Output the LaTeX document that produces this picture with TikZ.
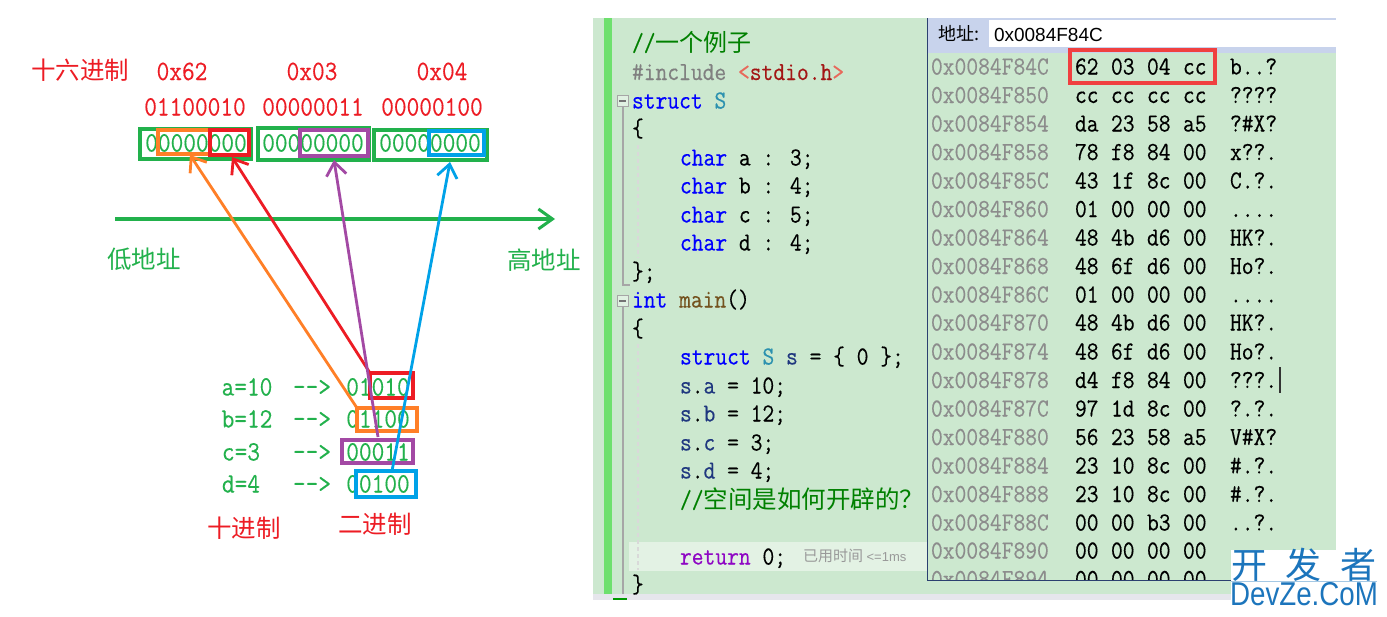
\documentclass[tikz,border=0pt]{standalone}
\usepackage{fontspec}
\usetikzlibrary{arrows.meta}
\setmainfont{Latin Modern Roman}
\newfontfamily\cjk{Noto Sans CJK SC}
\newfontfamily\mono[FakeStretch=0.88,FakeBold=0.35]{Latin Modern Mono}
\newfontfamily\ui{Liberation Sans}
\newfontfamily\uinarrow[FakeStretch=0.84]{Liberation Sans}
\definecolor{gr}{HTML}{22B14C}
\definecolor{rd}{HTML}{ED1C24}
\definecolor{og}{HTML}{FF7F27}
\definecolor{pu}{HTML}{A349A4}
\definecolor{bl}{HTML}{00A2E8}
\definecolor{panel}{HTML}{CCE8CF}
\definecolor{kw}{HTML}{0000FF}
\definecolor{ty}{HTML}{2B91AF}
\definecolor{cm}{HTML}{008000}
\definecolor{prep}{HTML}{808080}
\definecolor{strc}{HTML}{A31515}
\definecolor{ltb}{HTML}{E8685A}
\definecolor{vr}{HTML}{1F377F}
\definecolor{fn}{HTML}{74531F}
\definecolor{ret}{HTML}{8F08C4}
\definecolor{addr}{HTML}{8C8C8C}
\definecolor{wm}{HTML}{1C75BC}
\definecolor{band}{HTML}{E6E6EC}
\definecolor{bar}{HTML}{6EE06E}
\definecolor{winb}{HTML}{2B3F70}
\definecolor{addrbar}{HTML}{C8D3EC}
\definecolor{memr}{HTML}{F04040}
\tikzset{
  txt/.style={inner sep=0pt,outer sep=0pt,anchor=base west},
  ctr/.style={inner sep=0pt,outer sep=0pt,anchor=base},
  lefttxt/.style={ctr,font=\mono\fontsize{28}{28}\selectfont},
  code/.style={txt,font=\mono\fontsize{26}{26}\selectfont},
  cn/.style={ctr,font=\cjk\fontsize{24.5}{24.5}\selectfont},
  hand/.style={line width=2.8pt,-{Straight Barb[length=13pt,width=20pt,line width=2.8pt]}},
  bitbox/.style={inner sep=0pt,outer sep=0pt},
  boxline/.style={line width=3.6pt,line join=miter},
}
% name, colour, x1,y1,x2,y2
\newcommand{\bbox}[6]{\node[bitbox,minimum width={(#5-#3)*1pt},minimum height={(#6-#4)*1pt}] (#1) at ({(#3+#5)/2},{(#4+#6)/2}) {};
  \draw[boxline,#2] (#1.north west) rectangle (#1.south east);}
\newcommand{\hexrow}[7]{%
  \node[code,text=addr] (ad#1) at (931,#1+7.5) {#2};
  \node[code] (ha#1) at (1075,#1+7.5) {#3};
  \node[code] (hb#1) at (1111,#1+7.5) {#4};
  \node[code] (hc#1) at (1147,#1+7.5) {#5};
  \node[code] (hd#1) at (1183,#1+7.5) {#6};
  \node[code] (as#1) at (1230,#1+7.5) {#7};
}
\begin{document}
\begin{tikzpicture}[x=1pt,y=-1pt]
\useasboundingbox (0,0) rectangle (1387,616);
\fill[white] (0,0) rectangle (1387,616);
% ---------- left part
\node[cn,text=rd] (hexlab) at (80,79.5) {十六进制};
\node[lefttxt,text=rd] (h1) at (182,80) {0x62};
\node[lefttxt,text=rd] (h2) at (312,80) {0x03};
\node[lefttxt,text=rd] (h3) at (442,80) {0x04};
\node[lefttxt,text=rd] (b1) at (195,115.5) {01100010};
\node[lefttxt,text=rd] (b2) at (313,115.5) {00000011};
\node[lefttxt,text=rd] (b3) at (432,115.5) {00000100};
\node[lefttxt,text=gr] (z1) at (196,151.5) {00000000};
\node[lefttxt,text=gr] (z2) at (313,151.5) {00000000};
\node[lefttxt,text=gr] (z3) at (430,151.5) {00000000};
\bbox{g1}{gr}{140}{129}{251}{159}
\bbox{g2}{gr}{258}{128}{369}{160}
\bbox{g3}{gr}{374}{130}{487}{160}
\bbox{so}{og}{158}{130}{210}{154}
\bbox{sr}{rd}{210}{130}{249}{155}
\bbox{sp}{pu}{300}{130}{368}{156}
\bbox{sb}{bl}{429}{131}{484}{155}
\coordinate (axs) at (115,219);
\coordinate (axe) at (555,219);
\draw[gr,line width=3.4pt,-{Straight Barb[length=14pt,width=20pt,line width=3pt]}] (axs) -- (axe);
\node[cn,text=gr] (lo) at (144,268) {低地址};
\node[cn,text=gr] (hi) at (544,269) {高地址};
% rows
\node[lefttxt,text=gr] (ra) at (247,395.5) {a=10};
\node[lefttxt,text=gr] (rb) at (247,427.5) {b=12};
\node[lefttxt,text=gr] (rc) at (241,460.5) {c=3};
\node[lefttxt,text=gr] (rd) at (241,492.5) {d=4};
\node[lefttxt,text=gr] (aa) at (312,395.5) {-{}-{}>};
\node[lefttxt,text=gr] (ab) at (312,427.5) {-{}-{}>};
\node[lefttxt,text=gr] (ac) at (312,460.5) {-{}-{}>};
\node[lefttxt,text=gr] (ad) at (312,492.5) {-{}-{}>};
\node[lefttxt,text=gr] (va) at (378,395.5) {01010};
\node[lefttxt,text=gr] (vb) at (378,427.5) {01100};
\node[lefttxt,text=gr] (vc) at (378,460.5) {00011};
\node[lefttxt,text=gr] (vd) at (378,492.5) {00100};
\bbox{ba}{rd}{370}{373}{413}{398}
\bbox{bb}{og}{357}{408}{417}{431}
\bbox{bc}{pu}{342}{440}{413}{463}
\bbox{bd}{bl}{356}{471}{416}{497}
\node[cn,text=rd] (dec) at (244,537) {十进制};
\node[cn,text=rd] (bin) at (375,533) {二进制};
% arrows
\coordinate (tiporange) at (190,155);
\coordinate (tipred) at (232,157);
\coordinate (tippurple) at (334,160);
\coordinate (tipblue) at (450,162);
\coordinate (spurple) at (378,437);
\coordinate (sblue) at (392,471);
\draw[hand,og] (bb.north west) -- (tiporange);
\draw[hand,rd] (ba.north west) -- (tipred);
\draw[hand,pu] (spurple) -- (tippurple);
\draw[hand,bl] (sblue) -- (tipblue);
% ---------- right panel
\fill[panel] (593,18) rectangle (1336,594);
\fill[band] (593,594) rectangle (1231,600);
\fill[green!60!black] (613,598) -- (627,598) -- (627,600) -- (613,600) -- cycle;
\fill[bar] (604,18) rectangle (612,594);
% current line
\fill[white!45!panel] (629,542) rectangle (927,571);
% fold marks
\draw[gray!70,line width=1.2pt] (623,107) -- (623,285) -- (630,285);
\draw[gray!70,line width=1.2pt] (623,307) -- (623,594);
\node[draw=gray!70,line width=1pt,fill=panel!60!white,minimum size=11pt,inner sep=0pt] (f1) at (622.5,101) {};
\node[draw=gray!70,line width=1pt,fill=panel!60!white,minimum size=11pt,inner sep=0pt] (f2) at (622.5,301) {};
\draw[gray!90!black,line width=1.2pt] (f1.center) ++(-3.5,0) -- ++(7,0);
\draw[gray!90!black,line width=1.2pt] (f2.center) ++(-3.5,0) -- ++(7,0);
\draw[black!15,line width=1.5pt,dash pattern=on 4pt off 3pt] (638,145) -- (638,258);
\draw[black!15,line width=1.5pt,dash pattern=on 4pt off 3pt] (638,344) -- (638,570);
% code
\node[txt,text=cm,font=\fontsize{24}{24}\selectfont] (c1) at (632,51) {{\mono\fontsize{26}{26}\selectfont //}{\cjk 一个例子}};
\node[code] (c2) at (632,80) {\textcolor{prep}{\#include} \textcolor{ltb}{<}\textcolor{strc}{stdio.h}\textcolor{ltb}{>}};
\node[code] (c3) at (632,108.5) {\textcolor{kw}{struct} \textcolor{ty}{S}};
\node[code] (c4) at (632,136.5) {\{};
\node[code] (c5) at (680,165.5) {\textcolor{kw}{char} a : 3;};
\node[code] (c6) at (680,193.5) {\textcolor{kw}{char} b : 4;};
\node[code] (c7) at (680,222.5) {\textcolor{kw}{char} c : 5;};
\node[code] (c8) at (680,250.5) {\textcolor{kw}{char} d : 4;};
\node[code] (c9) at (632,279.5) {\};};
\node[code] (c10) at (632,307.5) {\textcolor{kw}{int} \textcolor{fn}{main}()};
\node[code] (c11) at (632,336.5) {\{};
\node[code] (c12) at (680,364.5) {\textcolor{kw}{struct} \textcolor{ty}{S} \textcolor{vr}{s} = \{ 0 \};};
\node[code] (c13) at (680,393.5) {\textcolor{vr}{s}.\textcolor{vr}{a} = 10;};
\node[code] (c14) at (680,421.5) {\textcolor{vr}{s}.\textcolor{vr}{b} = 12;};
\node[code] (c15) at (680,450.5) {\textcolor{vr}{s}.\textcolor{vr}{c} = 3;};
\node[code] (c16) at (680,478.5) {\textcolor{vr}{s}.\textcolor{vr}{d} = 4;};
\node[txt,text=cm,font=\fontsize{24.5}{24.5}\selectfont] (c17) at (680,508) {{\mono\fontsize{26}{26}\selectfont //}{\cjk 空间是如何开辟的？}};
\node[code] (c18) at (680,564.5) {\textcolor{ret}{return} 0;};
\node[txt,text=black!40,font=\ui\fontsize{13}{13}\selectfont] (c19) at (803,561) {{\cjk\fontsize{15}{15}\selectfont 已用时间} <=1ms};
\begin{scope}
\clip (593,18) rectangle (927,594);
\node[code] (c20) at (632,592.5) {\}};
\end{scope}
% memory window
\fill[addrbar] (928,18) rectangle (1336,53);
\fill[white] (989,20) rectangle (1336,47);
\node[txt,font=\cjk\fontsize{18}{18}\selectfont] (dz) at (938,40) {地址:};
\node[txt,font=\ui\fontsize{19}{19}\selectfont] (dzv) at (994,41) {0x0084F84C};
\begin{scope}
\clip (928,48) rectangle (1336,580);
\hexrow{67}{0x0084F84C}{62}{03}{04}{cc}{b..?}
\hexrow{95.5}{0x0084F850}{cc}{cc}{cc}{cc}{????}
\hexrow{124}{0x0084F854}{da}{23}{58}{a5}{?\#X?}
\hexrow{152.5}{0x0084F858}{78}{f8}{84}{00}{x??.}
\hexrow{181}{0x0084F85C}{43}{1f}{8c}{00}{C.?.}
\hexrow{209.5}{0x0084F860}{01}{00}{00}{00}{....}
\hexrow{238}{0x0084F864}{48}{4b}{d6}{00}{HK?.}
\hexrow{266.5}{0x0084F868}{48}{6f}{d6}{00}{Ho?.}
\hexrow{295}{0x0084F86C}{01}{00}{00}{00}{....}
\hexrow{323}{0x0084F870}{48}{4b}{d6}{00}{HK?.}
\hexrow{352}{0x0084F874}{48}{6f}{d6}{00}{Ho?.}
\hexrow{380.5}{0x0084F878}{d4}{f8}{84}{00}{???.}
\hexrow{409}{0x0084F87C}{97}{1d}{8c}{00}{?.?.}
\hexrow{437.5}{0x0084F880}{56}{23}{58}{a5}{V\#X?}
\hexrow{466}{0x0084F884}{23}{10}{8c}{00}{\#.?.}
\hexrow{494.5}{0x0084F888}{23}{10}{8c}{00}{\#.?.}
\hexrow{523}{0x0084F88C}{00}{00}{b3}{00}{..?.}
\hexrow{551}{0x0084F890}{00}{00}{00}{00}{}
\hexrow{579.5}{0x0084F894}{00}{00}{00}{00}{}
\end{scope}
\draw[winb,line width=1pt] (927.5,18) -- (927.5,580.5) -- (1231,580.5);
\draw[black!80,line width=1.2pt] (1280,367) -- (1280,393);
\bbox{memred}{memr}{1070}{50}{1215}{83}
% watermark
\fill[white] (1231,550) rectangle (1387,616);
\draw[wm!40,line width=.6pt] (1231,581) -- (1377,581);
\node[ctr,text=wm,font=\cjk\fontsize{36}{36}\selectfont] (w1) at (1249,578) {开};
\node[ctr,text=wm,font=\cjk\fontsize{36}{36}\selectfont] (w2) at (1303,578) {发};
\node[ctr,text=wm,font=\cjk\fontsize{36}{36}\selectfont] (w3) at (1358,578) {者};
\node[ctr,text=wm,font=\uinarrow\fontsize{33}{33}\selectfont] (w4) at (1304,605) {DevZe.CoM};
\end{tikzpicture}
\end{document}
